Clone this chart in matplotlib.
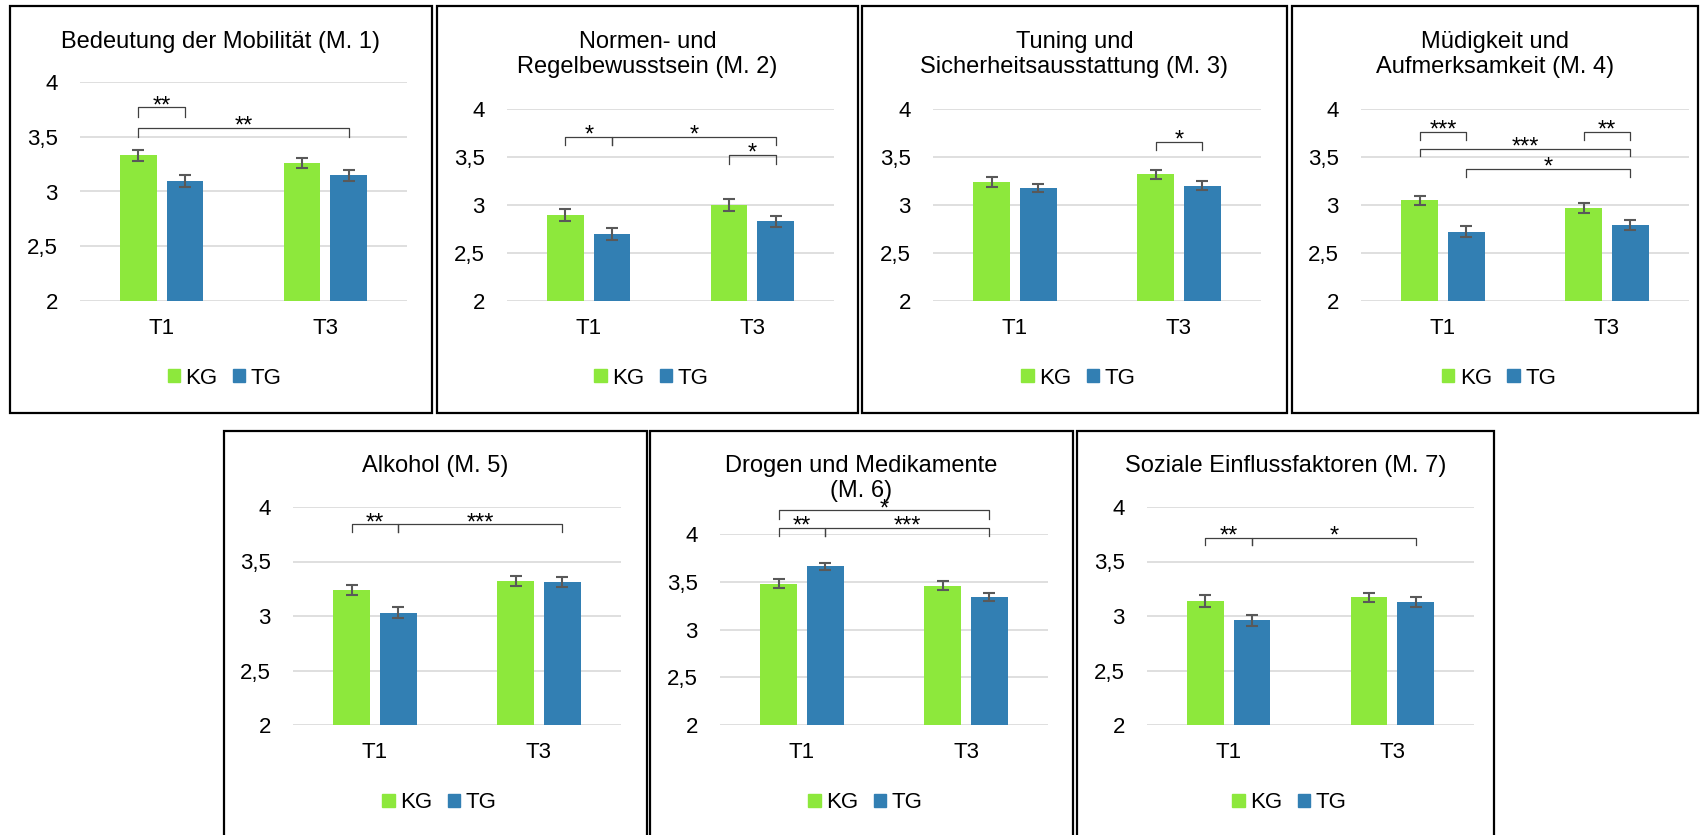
import matplotlib
matplotlib.use("Agg")
import matplotlib.pyplot as plt
from matplotlib.patches import Rectangle, Patch
import numpy as np

plt.rcParams['font.family'] = ['Liberation Sans', 'DejaVu Sans']

# ---------------- data ----------------
titles = ["Bedeutung der Mobilität (M. 1)",
          "Normen- und\nRegelbewusstsein (M. 2)",
          "Tuning und\nSicherheitsausstattung (M. 3)",
          "Müdigkeit und\nAufmerksamkeit (M. 4)",
          "Alkohol (M. 5)",
          "Drogen und Medikamente\n(M. 6)",
          "Soziale Einflussfaktoren (M. 7)"]
zeitpunkte = ["T1", "T3"]
gruppen = ["KG", "TG"]

kg_mean = [[3.33, 3.26], [2.90, 3.00], [3.24, 3.32], [3.05, 2.97],
           [3.24, 3.32], [3.48, 3.46], [3.14, 3.17]]
tg_mean = [[3.10, 3.15], [2.70, 2.83], [3.18, 3.20], [2.72, 2.79],
           [3.03, 3.31], [3.66, 3.34], [2.96, 3.13]]
kg_err = [[0.047, 0.046], [0.062, 0.059], [0.056, 0.045], [0.047, 0.052],
          [0.043, 0.044], [0.047, 0.049], [0.053, 0.043]]
tg_err = [[0.055, 0.050], [0.060, 0.054], [0.043, 0.045], [0.057, 0.052],
          [0.050, 0.046], [0.033, 0.044], [0.053, 0.047]]

# significance brackets: (bar a, bar b, level, leg end, label)
# bars: 0 = KG T1, 1 = TG T1, 2 = KG T3, 3 = TG T3
brackets = [
    [(0, 1, 3.77, 3.68, "**"), (0, 3, 3.58, 3.50, "**")],
    [(0, 1, 3.71, 3.62, "*"), (1, 3, 3.71, 3.62, "*"), (2, 3, 3.52, 3.43, "*")],
    [(2, 3, 3.656, 3.57, "*")],
    [(0, 1, 3.76, 3.68, "***"), (2, 3, 3.76, 3.68, "**"),
     (0, 3, 3.587, 3.51, "***"), (1, 3, 3.375, 3.29, "*")],
    [(0, 1, 3.84, 3.77, "**"), (1, 3, 3.84, 3.77, "***")],
    [(0, 3, 4.247, 4.16, "*"), (0, 1, 4.063, 3.976, "**"), (1, 3, 4.063, 3.976, "***")],
    [(0, 1, 3.72, 3.65, "**"), (1, 3, 3.72, 3.65, "*")],
]

# ---------------- layout (pixels) ----------------
W, H = 1700, 835
# panel frame: x0, x1, y0, y1
frames = [(9.5, 432, 6, 413), (437, 858, 6, 413), (862, 1287, 6, 413), (1292, 1698, 6, 413),
          (224, 647, 431, 840), (650, 1073, 431, 840), (1077, 1494, 431, 840)]
# axes: x0, x1, ytop, ybottom
axes_px = [(80, 407, 82, 301), (507, 834, 109, 301), (933, 1261, 109, 301), (1361, 1689, 109, 301),
           (293, 621, 507, 725), (720, 1048, 534, 725), (1147, 1474, 507, 725)]
title_top = [31, 31, 31, 31, 455, 455, 455]
legend_y = [378, 378, 378, 378, 803, 803, 803]

green = '#8de83c'
blue = '#327fb3'
fs = 16

fig = plt.figure(figsize=(W / 100, H / 100), dpi=100)

x = np.arange(len(zeitpunkte))
bw = 0.225
off = 0.1425

for i in range(7):
    fx0, fx1, fy0, fy1 = frames[i]
    fig.patches.append(Rectangle((fx0 / W, 1 - fy1 / H), (fx1 - fx0) / W, (fy1 - fy0) / H,
                                 transform=fig.transFigure, fill=False, lw=1.6,
                                 edgecolor='black', zorder=0))
    ax0, ax1, at, ab = axes_px[i]
    ax = fig.add_axes([ax0 / W, 1 - ab / H, (ax1 - ax0) / W, (ab - at) / H])
    ax.set_xlim(-0.5, 1.5)
    ax.set_ylim(2, 4)
    ax.set_yticks([2, 2.5, 3, 3.5, 4])
    ax.set_yticklabels(["2", "2,5", "3", "3,5", "4"])
    ax.set_xticks(x)
    ax.set_xticklabels(zeitpunkte)
    ax.tick_params(length=0, labelsize=fs)
    ax.tick_params(axis='y', pad=16)
    ax.tick_params(axis='x', pad=12)
    for s in ax.spines.values():
        s.set_visible(False)
    ax.grid(axis='y', color='#d9d9d9', lw=1.2)
    ax.set_axisbelow(True)

    ax.bar(x - off, kg_mean[i], bw, color=green, label=gruppen[0], zorder=2)
    ax.bar(x + off, tg_mean[i], bw, color=blue, label=gruppen[1], zorder=2)
    ax.errorbar(x - off, kg_mean[i], yerr=kg_err[i], fmt='none', ecolor='#595959',
                elinewidth=1.5, capsize=4.5, capthick=1.5, zorder=3)
    ax.errorbar(x + off, tg_mean[i], yerr=tg_err[i], fmt='none', ecolor='#595959',
                elinewidth=1.5, capsize=4.5, capthick=1.5, zorder=3)

    centers = [x[0] - off, x[0] + off, x[1] - off, x[1] + off]
    for a, b, lvl, leg, lab in brackets[i]:
        xa, xb = centers[a], centers[b]
        ax.plot([xa, xa, xb, xb], [leg, lvl, lvl, leg], color='#404040', lw=0.9,
                clip_on=False, zorder=4)
        ax.annotate(lab, ((xa + xb) / 2, lvl), xytext=(0, -3.5), textcoords='offset points',
                    ha='center', va='baseline', fontsize=17, annotation_clip=False)

    cx = (fx0 + fx1) / 2
    fig.text(cx / W, 1 - title_top[i] / H, titles[i], ha='center', va='top',
             fontsize=17, linespacing=1.15)

    handles = [Patch(color=green, label=gruppen[0]), Patch(color=blue, label=gruppen[1])]
    ax.legend(handles=handles, loc='center', bbox_to_anchor=((cx + 4) / W, 1 - legend_y[i] / H),
              bbox_transform=fig.transFigure, ncol=2, frameon=False, fontsize=fs,
              handlelength=0.55, handleheight=0.55, handletextpad=0.25, columnspacing=0.7)

fig.savefig("out.png", dpi=100)
